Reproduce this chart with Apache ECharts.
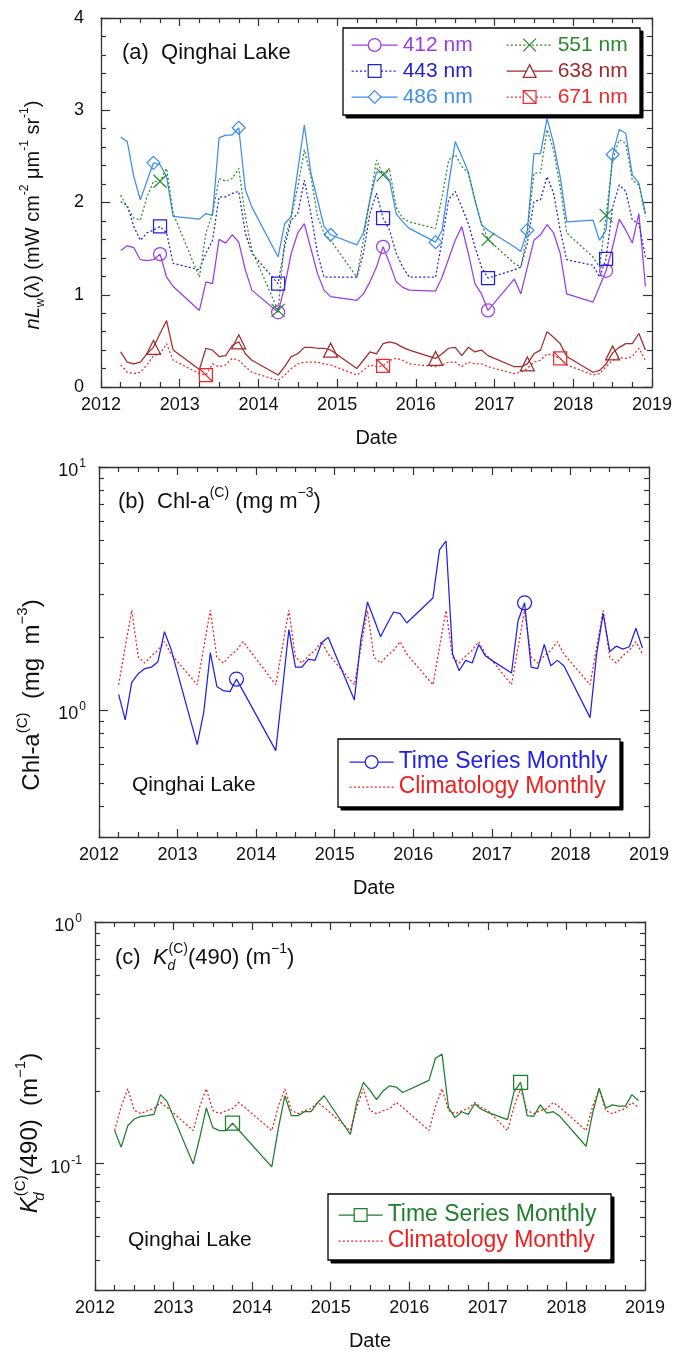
<!DOCTYPE html>
<html>
<head>
<meta charset="utf-8">
<title>Qinghai Lake</title>
<script src="https://cdn.jsdelivr.net/npm/echarts@6.0.0/dist/echarts.min.js"></script>
<style>
html,body{margin:0;padding:0;background:#ffffff;}
#chart{width:673px;height:1354px;}
</style>
</head>
<body>
<div id="chart"></div>
<script>
// ================= DATA =================
// (a) normalized water-leaving radiance, monthly
const datesA = [
 '2012-04','2012-05','2012-06','2012-07','2012-08','2012-09','2012-10','2012-11','2012-12',
 '2013-04','2013-05','2013-06','2013-07','2013-08','2013-09','2013-10','2013-11','2013-12',
 '2014-04','2014-05','2014-06','2014-07','2014-08','2014-09','2014-10','2014-11','2014-12',
 '2015-04','2015-05','2015-06','2015-07','2015-08','2015-09','2015-10','2015-11','2015-12',
 '2016-04','2016-05','2016-06','2016-07','2016-08','2016-09','2016-10','2016-11','2016-12',
 '2017-04','2017-05','2017-06','2017-07','2017-08','2017-09','2017-10','2017-11','2017-12',
 '2018-04','2018-05','2018-06','2018-07','2018-08','2018-09','2018-10','2018-11','2018-12'
];
const nLw412 = [
 1.48,1.53,1.51,1.38,1.37,1.38,1.44,1.19,1.09,
 0.83,1.14,1.12,1.60,1.56,1.65,1.57,1.27,1.05,
 0.81,1.09,1.45,1.67,1.77,1.50,1.23,1.05,0.98,
 0.94,1.01,1.14,1.30,1.52,1.34,1.14,1.08,1.05,
 1.04,1.19,1.39,1.59,1.74,1.45,1.12,1.01,0.83,
 1.17,1.01,1.30,1.59,1.65,1.76,1.67,1.45,1.01,
 0.92,1.09,1.26,1.52,1.82,1.70,1.56,1.88,1.09
];
const nLw443 = [
 2.01,1.97,1.74,1.59,1.67,1.70,1.74,1.67,1.34,
 1.27,1.45,1.59,2.06,2.06,2.10,2.12,1.67,1.45,
 1.12,1.52,1.81,1.88,2.24,1.88,1.45,1.19,1.19,
 1.19,1.45,1.88,2.10,1.83,1.70,1.45,1.30,1.19,
 1.19,1.59,2.03,2.12,1.95,1.77,1.52,1.30,1.18,
 1.27,1.30,1.56,2.01,2.03,2.28,2.10,1.70,1.38,
 1.32,1.19,1.39,1.95,2.19,2.12,1.81,1.77,1.41
];
const nLw486 = [
 2.71,2.66,2.28,2.03,2.23,2.43,2.41,2.28,1.85,
 1.82,1.88,1.86,2.70,2.73,2.73,2.81,2.14,1.95,
 1.41,1.77,1.85,2.35,2.84,2.32,2.03,1.74,1.65,
 1.54,1.67,2.03,2.33,2.33,2.24,1.88,1.79,1.72,
 1.57,1.70,2.20,2.66,2.50,2.33,2.03,1.76,1.70,
 1.52,1.47,1.70,2.53,2.53,2.91,2.64,2.28,1.79,
 1.81,1.59,1.70,2.52,2.79,2.75,2.30,2.21,1.88
];
const nLw551 = [
 2.08,1.95,1.83,1.81,2.06,2.23,2.23,2.37,1.88,
 1.19,1.67,1.88,2.26,2.23,2.26,2.37,1.85,1.48,
 0.83,1.59,1.85,2.17,2.57,2.28,1.85,1.67,1.59,
 1.19,1.59,2.03,2.46,2.30,2.35,1.95,1.83,1.79,
 1.72,2.06,2.46,2.52,2.39,2.32,2.03,1.77,1.60,
 1.34,1.30,1.67,2.32,2.32,2.79,2.57,2.17,1.67,
 1.41,1.30,1.86,2.46,2.68,2.64,2.24,2.19,1.85
];
const nLw638 = [
 0.38,0.27,0.25,0.27,0.36,0.43,0.58,0.72,0.40,
 0.19,0.42,0.40,0.33,0.34,0.45,0.49,0.36,0.29,
 0.13,0.22,0.33,0.36,0.43,0.43,0.42,0.42,0.40,
 0.20,0.29,0.38,0.36,0.47,0.49,0.47,0.43,0.40,
 0.31,0.36,0.42,0.43,0.34,0.43,0.38,0.40,0.34,
 0.22,0.22,0.25,0.36,0.40,0.60,0.54,0.47,0.33,
 0.16,0.18,0.25,0.37,0.43,0.47,0.47,0.58,0.40
];
const nLw671 = [
 0.24,0.16,0.145,0.16,0.24,0.34,0.36,0.47,0.29,
 0.145,0.13,0.25,0.22,0.24,0.31,0.29,0.22,0.16,
 0.07,0.13,0.20,0.25,0.27,0.27,0.27,0.25,0.24,
 0.13,0.18,0.24,0.22,0.23,0.29,0.31,0.29,0.25,
 0.22,0.24,0.27,0.27,0.22,0.27,0.25,0.25,0.22,
 0.145,0.16,0.20,0.27,0.29,0.36,0.34,0.31,0.24,
 0.13,0.145,0.22,0.29,0.32,0.31,0.33,0.42,0.29
];
const marksA1 = ['2012-10','2014-04','2015-08','2016-12','2018-06'];            // 412, 443, 551
const marksA2 = ['2012-09','2013-10','2014-12','2016-04','2017-06','2018-07'];  // 486, 638
const marksA3 = ['2013-05','2015-08','2017-11'];                                // 671
const yTicksA = [0, 1, 2, 3, 4];

// (b) Chl-a and (c) Kd(490) time series
const datesTS = [
 '2012-04','2012-05','2012-06','2012-07','2012-08','2012-09','2012-10','2012-11','2012-12',
 '2013-04','2013-05','2013-06','2013-07','2013-08','2013-09','2013-10',
 '2014-04','2014-05','2014-06','2014-07','2014-08','2014-09','2014-10','2014-11','2014-12',
 '2015-04','2015-05','2015-06','2015-07','2015-08','2015-09','2015-10','2015-11','2015-12',
 '2016-04','2016-05','2016-06','2016-07','2016-08','2016-09','2016-10','2016-11','2016-12','2017-01',
 '2017-04','2017-05','2017-06','2017-07','2017-08','2017-09','2017-10','2017-11','2017-12',
 '2018-04','2018-05','2018-06','2018-07','2018-08','2018-09','2018-10','2018-11','2018-12'
];
const chlTS = [
 1.16,0.91,1.30,1.41,1.48,1.50,1.58,2.10,1.78,
 0.72,0.98,1.72,1.25,1.20,1.19,1.34,
 0.68,1.20,2.14,1.50,1.50,1.62,1.60,1.89,1.99,
 1.10,1.95,2.78,2.37,2.00,2.26,2.53,2.49,2.28,
 2.89,4.56,4.96,1.70,1.45,1.60,1.56,1.86,1.67,1.60,
 1.42,2.33,2.76,1.50,1.48,1.86,1.52,1.60,1.52,
 0.93,1.70,2.49,1.74,1.83,1.78,1.82,2.17,1.80
];
const kdTS = [
 0.137,0.117,0.1435,0.153,0.157,0.158,0.160,0.193,0.181,
 0.0997,0.128,0.170,0.141,0.137,0.137,0.147,
 0.0969,0.140,0.191,0.158,0.158,0.164,0.164,0.179,0.191,
 0.132,0.181,0.217,0.201,0.184,0.200,0.210,0.2075,0.197,
 0.221,0.273,0.284,0.170,0.155,0.164,0.160,0.177,0.168,0.163,
 0.152,0.198,0.217,0.158,0.157,0.175,0.162,0.164,0.157,
 0.118,0.162,0.205,0.170,0.175,0.173,0.173,0.193,0.1825
];
const datesClim = [
 '2012-04','2012-05','2012-06','2012-07','2012-08','2012-09','2012-10','2012-11','2012-12',
 '2013-04','2013-05','2013-06','2013-07','2013-08','2013-09','2013-10','2013-11',
 '2014-04','2014-05','2014-06','2014-07','2014-08','2014-09','2014-10','2014-11','2014-12',
 '2015-04','2015-05','2015-06','2015-07','2015-08','2015-09','2015-10','2015-11','2015-12',
 '2016-04','2016-05','2016-06','2016-07','2016-08','2016-09','2016-10','2016-11','2016-12','2017-01',
 '2017-04','2017-05','2017-06','2017-07','2017-08','2017-09','2017-10','2017-11','2017-12',
 '2018-04','2018-05','2018-06','2018-07','2018-08','2018-09','2018-10','2018-11','2018-12'
];
const chlClim = [
 1.27,1.81,2.57,1.65,1.56,1.67,1.76,1.91,1.70,
 1.27,1.81,2.57,1.65,1.56,1.67,1.76,1.91,
 1.27,1.81,2.57,1.65,1.56,1.67,1.76,1.91,1.70,
 1.27,1.81,2.57,1.65,1.56,1.67,1.76,1.91,1.70,
 1.27,1.81,2.57,1.65,1.56,1.67,1.76,1.91,1.70,1.60,
 1.27,1.81,2.57,1.65,1.56,1.67,1.76,1.91,1.70,
 1.27,1.81,2.57,1.65,1.56,1.67,1.76,1.91,1.70
];
const kdClim = [
 0.137,0.1725,0.204,0.166,0.161,0.1655,0.169,0.179,0.171,
 0.137,0.1725,0.204,0.166,0.161,0.1655,0.169,0.179,
 0.137,0.1725,0.204,0.166,0.161,0.1655,0.169,0.179,0.171,
 0.137,0.1725,0.204,0.166,0.161,0.1655,0.169,0.179,0.171,
 0.137,0.1725,0.204,0.166,0.161,0.1655,0.169,0.179,0.171,0.166,
 0.137,0.1725,0.204,0.166,0.161,0.1655,0.169,0.179,0.171,
 0.137,0.1725,0.204,0.166,0.161,0.1655,0.169,0.179,0.171
];
const marksTS = ['2013-10','2017-06'];
const majorChl = [1, 10];
const minorChl = [0.3,0.4,0.5,0.6,0.7,0.8,0.9,2,3,4,5,6,7,8,9];
const majorKd = [0.1, 1];
const minorKd = [0.03,0.04,0.05,0.06,0.07,0.08,0.09,0.2,0.3,0.4,0.5,0.6,0.7,0.8,0.9];
const xYears = [2012, 2019];

// ================= STYLE =================
const FONT = '"Liberation Sans", Arial, Helvetica, sans-serif';
const INK = '#111';
const AX = '#333';
const COL = {
  n412:'#9a3ce6', n443:'#2121d8', n486:'#3d8ef0', n551:'#2b8a2b', n638:'#a32b2b', n671:'#ee2a2a',
  chl:'#2020e6', clim:'#f01e1e', kd:'#1e7e2a'
};
const DOT = [2, 2.2];

function toX(d){ const p = d.split('-'); return (+p[0]) + (+p[1] - 1) / 12; }
function pts(dates, vals, marks){
  return dates.map(function(d, i){
    const it = { value: [toX(d), vals[i]] };
    if (!marks || marks.indexOf(d) < 0) it.symbol = 'none';
    return it;
  });
}

const tickStyle = { color: AX, width: 1.2 };
function xPair(g){
  const base = {
    type:'value', gridIndex:g, min:xYears[0], max:xYears[1], interval:1,
    axisLine:{ show:true, onZero:false, lineStyle:{ color:AX, width:1.3 } },
    axisTick:{ show:true, inside:true, length:8, lineStyle:tickStyle },
    minorTick:{ show:true, splitNumber:4, length:5, lineStyle:tickStyle },
    splitLine:{ show:false }, minorSplitLine:{ show:false }
  };
  return [
    Object.assign({}, base, {
      position:'bottom',
      axisLabel:{ show:true, fontSize:18, color:INK, fontFamily:FONT, margin:9, showMinLabel:true, showMaxLabel:true,
        formatter:function(v){ return String(Math.round(v)); } },
      name:'Date', nameLocation:'middle', nameGap:41, nameMoveOverlap:false,
      nameTextStyle:{ fontSize:20, color:INK, fontFamily:FONT }
    }),
    Object.assign({}, base, { position:'top', axisLabel:{ show:false } })
  ];
}
function logTickAxes(g, lo, hi, major, minor, labelMargin){
  const L = Math.log10(lo), H = Math.log10(hi);
  const majL = major.map(function(v){ return Math.log10(v); });
  const minL = minor.map(function(v){ return Math.log10(v); });
  const common = { type:'value', gridIndex:g, min:L, max:H, splitLine:{show:false}, minorTick:{show:false} };
  const labelCfg = {
    show:true, customValues: majL, margin: labelMargin, color: INK, fontFamily: FONT,
    formatter: function(v){ const e = Math.round(v); return '{b|10}{s|' + (e < 0 ? '-' : '') + Math.abs(e) + '}'; },
    rich:{
      b:{ fontSize:18, lineHeight:18, verticalAlign:'middle', color:INK, fontFamily:FONT, padding:[8,0,0,0] },
      s:{ fontSize:12, lineHeight:12, verticalAlign:'top', color:INK, fontFamily:FONT, padding:[0,0,14,1] }
    }
  };
  return [
    Object.assign({}, common, { position:'left', axisLine:{show:true, onZero:false, lineStyle:{color:AX, width:1.3}},
      axisTick:{show:true, inside:true, length:9, customValues: majL, lineStyle:tickStyle}, axisLabel: labelCfg }),
    Object.assign({}, common, { position:'left', axisLine:{show:false, onZero:false},
      axisTick:{show:true, inside:true, length:5, customValues: minL, lineStyle:tickStyle}, axisLabel:{show:false} }),
    Object.assign({}, common, { position:'right', axisLine:{show:true, onZero:false, lineStyle:{color:AX, width:1.3}},
      axisTick:{show:true, inside:true, length:9, customValues: majL, lineStyle:tickStyle}, axisLabel:{show:false} }),
    Object.assign({}, common, { position:'right', axisLine:{show:false, onZero:false},
      axisTick:{show:true, inside:true, length:5, customValues: minL, lineStyle:tickStyle}, axisLabel:{show:false} })
  ];
}

const linAxisA = {
  type:'value', gridIndex:0, min:yTicksA[0], max:yTicksA[yTicksA.length-1], interval:1,
  axisLine:{ show:true, onZero:false, lineStyle:{ color:AX, width:1.3 } },
  axisTick:{ show:true, inside:true, length:9, lineStyle:tickStyle },
  minorTick:{ show:true, splitNumber:5, length:5, lineStyle:tickStyle },
  splitLine:{show:false}, minorSplitLine:{show:false}
};

const xAxis = [].concat(xPair(0), xPair(1), xPair(2));
const yAxis = [
  Object.assign({}, linAxisA, { position:'left', axisLabel:{ show:true, fontSize:18, color:INK, fontFamily:FONT, margin:17 } }), // 0
  Object.assign({}, linAxisA, { position:'right', axisLabel:{ show:false } }),                                                  // 1
  { type:'log', logBase:10, gridIndex:1, min:minorChl[0], max:majorChl[1], show:false },                                        // 2 data axis (b)
  { type:'log', logBase:10, gridIndex:2, min:minorKd[0], max:majorKd[1], show:false }                                           // 3 data axis (c)
].concat(logTickAxes(1, minorChl[0], majorChl[1], majorChl, minorChl, 13),
         logTickAxes(2, minorKd[0], majorKd[1], majorKd, minorKd, 13));

function lineSeries(name, xi, yi, data, color, dashed, symbol, size){
  return {
    name:name, type:'line', xAxisIndex:xi, yAxisIndex:yi, data:data,
    symbol: symbol || 'none', symbolSize: size || 13, showAllSymbol:true,
    lineStyle:{ color:color, width:1.25, type: dashed ? DOT : 'solid' },
    itemStyle:{ color:'rgba(255,255,255,0)', borderColor:color, borderWidth:1.25 },
    emphasis:{ disabled:true }, silent:true, z:2, clip:true
  };
}
const SYM_X = 'path://M0,0L10,10M10,0L0,10';
const SYM_BOXX = 'path://M0,0L10,0L10,10L0,10Z M0,0L10,10';

const series = [
  lineSeries('412 nm', 0, 0, pts(datesA, nLw412, marksA1), COL.n412, false, 'circle', 13),
  lineSeries('443 nm', 0, 0, pts(datesA, nLw443, marksA1), COL.n443, true, 'rect', 13),
  lineSeries('486 nm', 0, 0, pts(datesA, nLw486, marksA2), COL.n486, false, 'diamond', 13),
  lineSeries('551 nm', 0, 0, pts(datesA, nLw551, marksA1), COL.n551, true, SYM_X, 13),
  lineSeries('638 nm', 0, 0, pts(datesA, nLw638, marksA2), COL.n638, false, 'triangle', 14),
  lineSeries('671 nm', 0, 0, pts(datesA, nLw671, marksA3), COL.n671, true, SYM_BOXX, 13),
  lineSeries('chlClim', 2, 2, pts(datesClim, chlClim, []), COL.clim, true, 'none', 1),
  lineSeries('chlTS', 2, 2, pts(datesTS, chlTS, marksTS), COL.chl, false, 'circle', 14),
  lineSeries('kdClim', 4, 3, pts(datesClim, kdClim, []), COL.clim, true, 'none', 1),
  lineSeries('kdTS', 4, 3, pts(datesTS, kdTS, marksTS), COL.kd, false, 'rect', 14)
];

function legItem(name, color, dashed, hideSym){
  return {
    name:name,
    textStyle:{ color: color },
    itemStyle: hideSym ? { color:'rgba(0,0,0,0)', borderColor:'rgba(0,0,0,0)', borderWidth:0 }
                       : { color:'#fff', borderColor:color, borderWidth:1.25 },
    lineStyle:{ color:color, width:1.25, type: dashed ? DOT : 'solid' }
  };
}
const legBase = { orient:'vertical', padding:0, itemGap:0, selectedMode:false, z:6 };
const LABELS = { chlTS:'Time Series Monthly', chlClim:'Climatology Monthly', kdTS:'Time Series Monthly', kdClim:'Climatology Monthly' };
const legend = [
  Object.assign({}, legBase, { left:351, top:32, itemWidth:46, itemHeight:16,
    textStyle:{ fontSize:21, lineHeight:26, fontFamily:FONT },
    data:[ legItem('412 nm', COL.n412), legItem('443 nm', COL.n443, true), legItem('486 nm', COL.n486) ] }),
  Object.assign({}, legBase, { left:506, top:32, itemWidth:46, itemHeight:16,
    textStyle:{ fontSize:21, lineHeight:26, fontFamily:FONT },
    data:[ legItem('551 nm', COL.n551, true), legItem('638 nm', COL.n638), legItem('671 nm', COL.n671, true) ] }),
  Object.assign({}, legBase, { left:349, top:749.5, itemWidth:44, itemHeight:16,
    textStyle:{ fontSize:23, lineHeight:25, fontFamily:FONT },
    formatter:function(n){ return LABELS[n]; },
    data:[ legItem('chlTS', COL.chl), legItem('chlClim', COL.clim, true, true) ] }),
  Object.assign({}, legBase, { left:338, top:1202, itemWidth:44, itemHeight:16,
    textStyle:{ fontSize:23, lineHeight:26, fontFamily:FONT },
    formatter:function(n){ return LABELS[n]; },
    data:[ legItem('kdTS', COL.kd), legItem('kdClim', COL.clim, true, true) ] })
];

function box(x, y, w, h){
  return [
    { type:'rect', z:3, shape:{ x:x + 3, y:y + 3, width:w, height:h }, style:{ fill:'#000', stroke:'#000', lineWidth:1 } },
    { type:'rect', z:3, shape:{ x:x, y:y, width:w, height:h }, style:{ fill:'#fff', stroke:'#000', lineWidth:1.3 } }
  ];
}
const tokN = function(fs){ return { fontSize:fs, fontFamily:FONT, fill:INK, lineHeight:Math.round(fs*1.4), verticalAlign:'middle' }; };
function richSet(fs){
  const ss = Math.round(fs*0.62);
  return {
    n: tokN(fs),
    i: Object.assign(tokN(fs), { fontStyle:'italic' }),
    sup: { fontSize:ss, fontFamily:FONT, fill:INK, lineHeight:ss, verticalAlign:'top' },
    sub: { fontSize:ss, fontFamily:FONT, fill:INK, lineHeight:ss, verticalAlign:'bottom' },
    subi: { fontSize:ss, fontFamily:FONT, fontStyle:'italic', fill:INK, lineHeight:ss, verticalAlign:'bottom', width:1 }
  };
}
function txt(x, y, text, fs){
  return { type:'text', z:7, x:x, y:y,
    style:{ text:text, fontSize:fs, fontFamily:FONT, fill:INK, align:'left', verticalAlign:'middle', rich: richSet(fs) } };
}
function vtxt(x, y, text, fs){
  return { type:'text', z:7, x:x, y:y, rotation:Math.PI/2,
    style:{ text:text, fontSize:fs, fontFamily:FONT, fill:INK, align:'center', verticalAlign:'middle', rich: richSet(fs) } };
}

const graphic = [].concat(
  box(343, 28, 297, 87),
  box(338, 739, 282, 68),
  box(328, 1194, 283, 66),
  [
    txt(122, 53, '{n|(a)  Qinghai Lake}', 22),
    txt(118, 502, '{n|(b)  Chl-a}{sup|(C)}{n| (mg m}{sup|−3}{n|)}', 22),
    txt(115, 958, '{n|(c)  }{i|K}{subi|d}{sup|(C)}{n|(490) (m}{sup|−1}{n|)}', 22),
    txt(132, 785, '{n|Qinghai Lake}', 21),
    txt(128, 1240, '{n|Qinghai Lake}', 21),
    vtxt(33, 215, '{i|nL}{sub|w}{n|(λ) (mW cm}{sup|-2}{n| μm}{sup|-1}{n| sr}{sup|-1}{n|)}', 20),
    vtxt(32, 695, '{n|Chl-a}{sup|(C)}{n|  (mg  m}{sup|−3}{n|)}', 24),
    vtxt(30, 1133, '{i|K}{subi|d}{sup|(C)}{n|(490)  (m}{sup|−1}{n|)}', 24)
  ]
);

const option = {
  backgroundColor:'#ffffff',
  animation:false,
  textStyle:{ fontFamily:FONT },
  grid:[
    { left:101, top:18, width:551, height:369, containLabel:false, outerBoundsMode:'none' },
    { left:99, top:467, width:550, height:370, containLabel:false, outerBoundsMode:'none' },
    { left:95, top:922, width:550, height:368, containLabel:false, outerBoundsMode:'none' }
  ],
  xAxis: xAxis,
  yAxis: yAxis,
  legend: legend,
  series: series,
  graphic: graphic
};
const chart = echarts.init(document.getElementById('chart'), null, { renderer:'canvas' });
chart.setOption(option);
</script>
</body>
</html>
